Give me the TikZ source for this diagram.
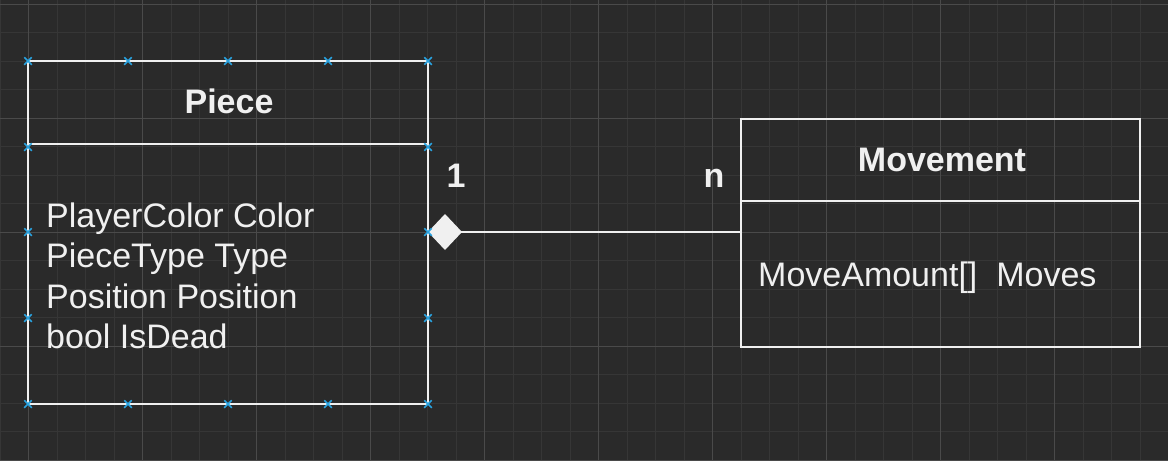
\documentclass[tikz,border=0pt]{standalone}
\usepackage{fontspec}
\setmainfont{Liberation Sans}
\usetikzlibrary{arrows.meta,shapes.misc}
\definecolor{bg}{HTML}{2A2A2A}
\definecolor{gridminor}{HTML}{363636}
\definecolor{gridmajor}{HTML}{4A4A4A}
\definecolor{fg}{HTML}{F0F0F0}
\definecolor{handleblue}{HTML}{29A3E0}
\begin{document}
\begin{tikzpicture}[x=1pt,y=-1pt,
  umlbox/.style={draw=fg, line width=2.8pt, inner sep=0pt, outer sep=0pt, anchor=north west},
  titletext/.style={text=fg, font=\fontsize{34}{40}\selectfont\bfseries, anchor=base, inner sep=0pt},
  attrtext/.style={text=fg, font=\fontsize{34}{40}\selectfont, anchor=base west, inner sep=0pt},
  assoc/.style={draw=fg, line width=2.8pt, {Diamond[length=34pt,width=36pt,fill=fg]}-},
  handle/.style={cross out, draw=handleblue, line width=1.5pt, minimum size=6pt, inner sep=0pt},
  minorline/.style={draw=gridminor, line width=1pt},
  majorline/.style={draw=gridmajor, line width=1pt}]

\fill[bg] (0,0) rectangle (1168,461);
\useasboundingbox (0,0) rectangle (1168,461);

% grid
\foreach \k in {0,...,41} { \draw[minorline] ({28.5*\k},0) -- ({28.5*\k},461); }
\foreach \k in {0,...,16} { \draw[minorline] (0,{4+28.5*\k}) -- (1168,{4+28.5*\k}); }
\foreach \m in {0,...,10} { \draw[majorline] ({28.5+114*\m},0) -- ({28.5+114*\m},461); }
\foreach \m in {0,...,4} { \draw[majorline] (0,{4+114*\m}) -- (1168,{4+114*\m}); }

% Piece class
\node[umlbox, minimum width=400pt, minimum height=83pt] (piecehead) at (28,61) {};
\node[umlbox, minimum width=400pt, minimum height=260pt] (piecebody) at (28,144) {};
\node[titletext] (piecetitle) at (229,113) {Piece};
\node[attrtext] (pa1) at (46,227) {PlayerColor Color};
\node[attrtext] (pa2) at (46,267.5) {PieceType Type};
\node[attrtext] (pa3) at (46,308) {Position Position};
\node[attrtext] (pa4) at (46,348) {bool IsDead};

% Movement class
\node[umlbox, minimum width=399pt, minimum height=82pt] (movehead) at (741,119) {};
\node[umlbox, minimum width=399pt, minimum height=146pt] (movebody) at (741,201) {};
\node[titletext] (movetitle) at (942,171) {Movement};
\node[attrtext] (ma1) at (758,286) {MoveAmount[]~~Moves};

% association
\coordinate (assocy) at (0,232);
\draw[assoc] (piecebody.east |- assocy) -- (movebody.west |- assocy);
\node[titletext] (multone) at (456,187) {1};
\node[titletext] (multn) at (714,187) {n};

% selection handles
\foreach \x [count=\i] in {28,128,228,328,428} {
  \node[handle] (ht\i) at (\x,61) {};
  \node[handle] (hb\i) at (\x,404) {};
}
\foreach \y [count=\i] in {147,232,318} {
  \node[handle] (hl\i) at (28,\y) {};
  \node[handle] (hr\i) at (428,\y) {};
}
\end{tikzpicture}
\end{document}
